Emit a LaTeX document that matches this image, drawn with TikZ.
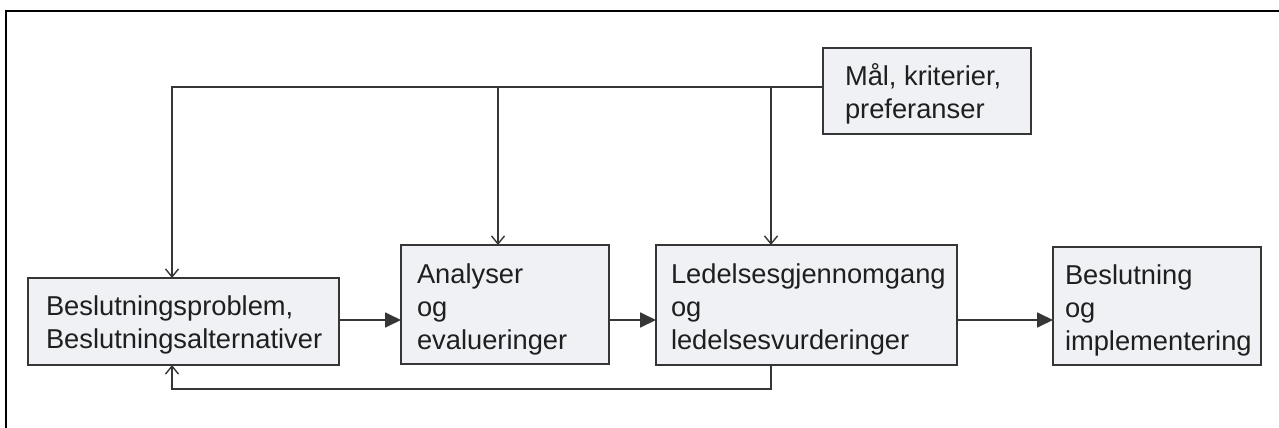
\documentclass[tikz,border=0pt]{standalone}
\usepackage{fontspec}
\setmainfont{Liberation Sans}
\usetikzlibrary{arrows.meta}
\definecolor{boxfill}{HTML}{EFF1F5}
\definecolor{boxline}{HTML}{363636}
\begin{document}
\begin{tikzpicture}[x=1pt,y=-1pt,
  box/.style={draw=boxline,fill=boxfill,line width=1.8pt,inner sep=0pt,outer sep=0pt},
  txt/.style={anchor=base west,inner sep=0pt,outer sep=0pt,font=\fontsize{27.3}{33}\selectfont,text=black!88},
  harrow/.style={draw=boxline,line width=1.8pt,-{Triangle[length=16pt,width=15pt]}},
  varrow/.style={draw=boxline,line width=1.4pt,-{Straight Barb[length=8pt,width=13pt,line width=1.4pt]}},
  conn/.style={draw=boxline,line width=1.4pt}]
\useasboundingbox (0,0) rectangle (1279,428);
\begin{scope}
\clip (0,0) rectangle (1279,428);
\draw[line width=2.8pt,black] (6,11) rectangle (1300,450);
\end{scope}
% boxes
\node[box,minimum width=311pt,minimum height=87pt] (b1) at (183.5,321.5) {};
\node[box,minimum width=208pt,minimum height=119pt] (b2) at (505,304.5) {};
\node[box,minimum width=301pt,minimum height=120pt] (b3) at (806.5,305) {};
\node[box,minimum width=208pt,minimum height=118pt] (b4) at (1157,306) {};
\node[box,minimum width=208pt,minimum height=86pt] (b5) at (927,91) {};
% texts
\node[txt] (t1) at (46,315) {\begin{tabular}[t]{@{}l@{}}Beslutningsproblem,\\Beslutningsalternativer\end{tabular}};
\node[txt] (t2) at (417,283) {\begin{tabular}[t]{@{}l@{}}Analyser\\og\\evalueringer\end{tabular}};
\node[txt] (t3) at (671,283) {\begin{tabular}[t]{@{}l@{}}Ledelsesgjennomgang\\og\\ledelsesvurderinger\end{tabular}};
\node[txt] (t4) at (1065,284) {\begin{tabular}[t]{@{}l@{}}Beslutning\\og\\implementering\end{tabular}};
\node[txt] (t5) at (845,85) {\begin{tabular}[t]{@{}l@{}}M\aa l, kriterier,\\preferanser\end{tabular}};
% helper coordinates
\coordinate (c1) at (172,87);
\coordinate (c2) at (498,87);
\coordinate (c3) at (771,87);
\coordinate (fb) at (0,389);
\coordinate (hy) at (0,320);
% horizontal arrows
\draw[harrow] (b1.east |- hy) -- (b2.west |- hy);
\draw[harrow] (b2.east |- hy) -- (b3.west |- hy);
\draw[harrow] (b3.east |- hy) -- (b4.west |- hy);
% top bus
\draw[varrow] (b5.west |- c1) -- (c1) -- (c1 |- b1.north);
\draw[varrow] (c2) -- (c2 |- b2.north);
\draw[varrow] (c3) -- (c3 |- b3.north);
% feedback
\draw[varrow] (c3 |- b3.south) -- (c3 |- fb) -- (c1 |- fb) -- (c1 |- b1.south);
\end{tikzpicture}
\end{document}
